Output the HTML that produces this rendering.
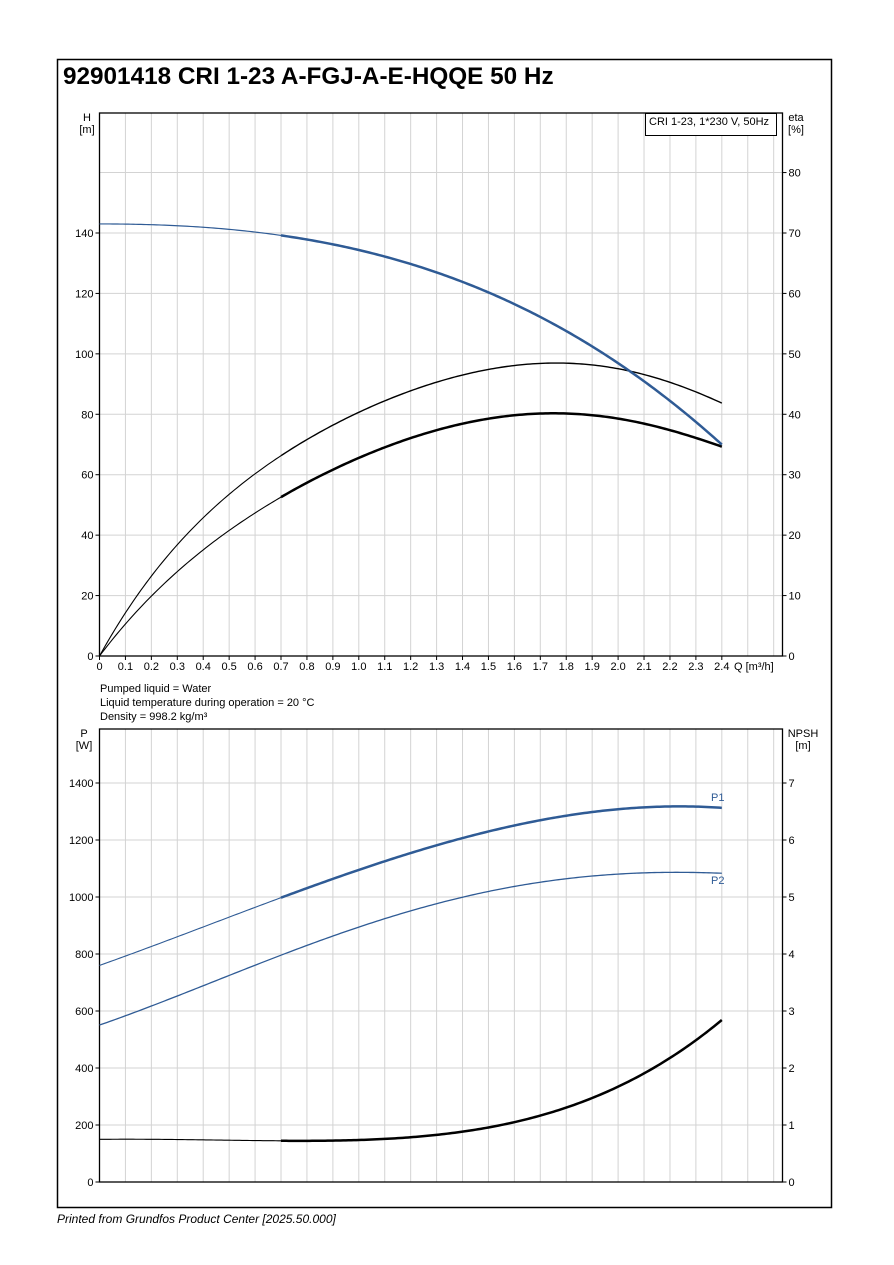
<!DOCTYPE html>
<html><head><meta charset="utf-8"><style>
body{margin:0;background:#fff;}
svg{display:block;font-family:"Liberation Sans",sans-serif;}
</style></head><body>
<svg id="s" width="894" height="1265" viewBox="0 0 894 1265" xmlns="http://www.w3.org/2000/svg">
<rect x="57.5" y="59.5" width="774" height="1148" fill="none" stroke="#000" stroke-width="1.5"/>
<text x="63" y="84" font-size="24.3" font-weight="bold">92901418 CRI 1-23 A-FGJ-A-E-HQQE 50 Hz</text>
<g id="g"></g>
<text x="100" y="692" font-size="11">Pumped liquid = Water</text>
<text x="100" y="706" font-size="11">Liquid temperature during operation = 20 °C</text>
<text x="100" y="720" font-size="11">Density = 998.2 kg/m³</text>
<text x="57" y="1223" font-size="12" font-style="italic">Printed from Grundfos Product Center [2025.50.000]</text>
<rect x="645.5" y="113.5" width="131" height="22" fill="#fff" stroke="#000"/>
<text x="649" y="125" font-size="11">CRI 1-23, 1*230 V, 50Hz</text>
<text x="87" y="121" font-size="11" text-anchor="middle">H</text>
<text x="87" y="133" font-size="11" text-anchor="middle">[m]</text>
<text x="796" y="121" font-size="11" text-anchor="middle">eta</text>
<text x="796" y="133" font-size="11" text-anchor="middle">[%]</text>
<text x="84" y="737" font-size="11" text-anchor="middle">P</text>
<text x="84" y="749" font-size="11" text-anchor="middle">[W]</text>
<text x="803" y="737" font-size="11" text-anchor="middle">NPSH</text>
<text x="803" y="749" font-size="11" text-anchor="middle">[m]</text>
<text x="711" y="801" font-size="11" fill="#2f5b95">P1</text>
<text x="711" y="884" font-size="11" fill="#2f5b95">P2</text>
</svg>
<script>
const NS="http://www.w3.org/2000/svg",g=document.getElementById('g');
function el(t,a,txt){const e=document.createElementNS(NS,t);for(const k in a)e.setAttribute(k,a[k]);if(txt!=null)e.textContent=txt;g.appendChild(e);return e;}
const L=99.5,R=782.5,dx=25.93;
const X=q=>L+q*10*dx;
const T0=113,B0=656,sy0=60.43/20;
const Y0=h=>B0-h*sy0;
const T1=729,B1=1182,sy1=57/200;
const Y1=p=>B1-p*sy1;
function grid(T,B,hs){
  for(let i=1;i<=26;i++){const x=X(i/10);if(x<R-1)el('line',{x1:x,y1:T,x2:x,y2:B,stroke:'#d3d3d3','stroke-width':1});}
  hs.forEach(y=>el('line',{x1:L,y1:y,x2:R,y2:y,stroke:'#d3d3d3','stroke-width':1}));
  el('rect',{x:L,y:T,width:R-L,height:B-T,fill:'none',stroke:'#000','stroke-width':1.3});
}
grid(T0,B0,[20,40,60,80,100,120,140,160].map(Y0));
grid(T1,B1,[200,400,600,800,1000,1200,1400].map(Y1));
for(let h=0;h<=140;h+=20){const y=Y0(h);el('line',{x1:L-4,y1:y,x2:L,y2:y,stroke:'#000'});el('text',{x:L-6,y:y+4,'font-size':11,'text-anchor':'end'},h);}
for(let e=0;e<=80;e+=10){const y=Y0(e*2);el('line',{x1:R,y1:y,x2:R+4,y2:y,stroke:'#000'});el('text',{x:R+6,y:y+4,'font-size':11},e);}
for(let i=0;i<=24;i++){const x=X(i/10);el('line',{x1:x,y1:B0,x2:x,y2:B0+4,stroke:'#000'});el('text',{x:x,y:B0+14,'font-size':11,'text-anchor':'middle'},i==0?'0':(i/10).toFixed(1));}
el('text',{x:734,y:B0+14,'font-size':11},'Q [m³/h]');
for(let p=0;p<=1400;p+=200){const y=Y1(p);el('line',{x1:L-4,y1:y,x2:L,y2:y,stroke:'#000'});el('text',{x:L-6,y:y+4,'font-size':11,'text-anchor':'end'},p);}
for(let n=0;n<=7;n++){const y=Y1(n*200);el('line',{x1:R,y1:y,x2:R+4,y2:y,stroke:'#000'});el('text',{x:R+6,y:y+4,'font-size':11},n);}
function fit(data,pows){
  const n=pows.length,A=[],b=[];
  for(let i=0;i<n;i++){A.push(new Array(n).fill(0));b.push(0);}
  data.forEach(([q,v])=>{const f=pows.map(p=>Math.pow(q,p));for(let i=0;i<n;i++){b[i]+=f[i]*v;for(let j=0;j<n;j++)A[i][j]+=f[i]*f[j];}});
  for(let i=0;i<n;i++){let m=i;for(let k=i+1;k<n;k++)if(Math.abs(A[k][i])>Math.abs(A[m][i]))m=k;[A[i],A[m]]=[A[m],A[i]];[b[i],b[m]]=[b[m],b[i]];
    for(let k=i+1;k<n;k++){const f=A[k][i]/A[i][i];for(let j=i;j<n;j++)A[k][j]-=f*A[i][j];b[k]-=f*b[i];}}
  const c=new Array(n).fill(0);for(let i=n-1;i>=0;i--){let s=b[i];for(let j=i+1;j<n;j++)s-=A[i][j]*c[j];c[i]=s/A[i][i];}
  return q=>pows.reduce((s,p,i)=>s+c[i]*Math.pow(q,p),0);
}
function path(f,Y,a,b){let d='';for(let q=a;q<=b+1e-9;q+=0.01){d+=(d?'L':'M')+X(q).toFixed(2)+','+Y(f(q)).toFixed(2);}return d;}
function curve(f,Y,col,w1,w2){
  el('path',{d:path(f,Y,0,0.7),fill:'none',stroke:col,'stroke-width':w1,'stroke-linejoin':'round'});
  el('path',{d:path(f,Y,0.7,2.4),fill:'none',stroke:col,'stroke-width':w2,'stroke-linejoin':'round'});
}
const BL='#2f5b95';
const fH=q=>143-5.74*q*q-2.89*q*q*q;
const P0=[1,2,3,4,5];
const fEu=fit([[0,0],[0.15,20.8],[0.3,36.8],[0.7,66],[1.0,80.9],[1.3,90.8],[1.6,95.8],[1.8,96.9],[2.0,95.3],[2.2,90.5],[2.4,83.7]],P0);
const fEl=fit([[0,0],[0.15,16.3],[0.3,27.5],[0.7,52],[1.0,66],[1.3,75.2],[1.6,79.2],[1.8,80.1],[2.0,78.5],[2.2,75.2],[2.4,69.1]],P0);
curve(fEu,Y0,'#000',1.1,1.4);
curve(fEl,Y0,'#000',1.1,2.5);
curve(fH,Y0,BL,1.2,2.5);
const Pp=[0,1,2,3,4];
const fP1=fit([[0,760],[0.7,997],[1.0,1096],[1.5,1230],[2.0,1305],[2.15,1320],[2.4,1312]],Pp);
const fP2=fit([[0,551],[0.7,792],[1.0,901],[1.5,1015],[2.0,1080],[2.15,1089],[2.4,1082]],Pp);
const fN=fit([[0,150],[0.4,147],[0.7,145],[0.9,144],[1.2,160],[1.5,193],[1.8,253],[2.0,337],[2.2,440],[2.4,566]],Pp);
curve(fP1,Y1,BL,1.1,2.5);
curve(fP2,Y1,BL,1.3,1.3);
curve(fN,Y1,'#000',1.1,2.5);
</script>
</body></html>
